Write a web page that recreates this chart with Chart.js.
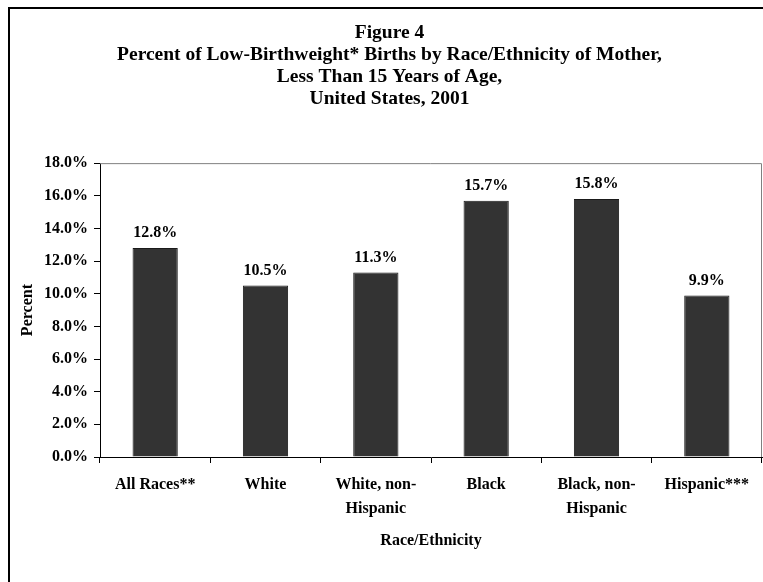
<!DOCTYPE html>
<html>
<head>
<meta charset="utf-8">
<script src="https://cdn.jsdelivr.net/npm/chart.js@4"></script>
<style>
  html, body { margin:0; padding:0; background:#fff; }
  #wrap { position:relative; width:763px; height:582px; overflow:hidden; }
  #frame { position:absolute; left:8px; top:7px; width:800px; height:600px; border-left:2px solid #000; border-top:2px solid #000; }
  #chart { position:absolute; left:0; top:0; }
</style>
</head>
<body>
<div id="wrap">
  <div id="frame"></div>
  <canvas id="chart" width="763" height="582"></canvas>
</div>
<script>
const categories = [['All Races**'], ['White'], ['White, non-', 'Hispanic'], ['Black'], ['Black, non-', 'Hispanic'], ['Hispanic***']];
const percents = [12.8, 10.5, 11.3, 15.7, 15.8, 9.9];
const titleLines = [
  'Figure 4',
  'Percent of Low-Birthweight* Births by Race/Ethnicity of Mother,',
  'Less Than 15 Years of Age,',
  'United States, 2001'
];
const yTicks = [0, 2, 4, 6, 8, 10, 12, 14, 16, 18];

const serif = "'Liberation Serif', 'Times New Roman', serif";

// values over the bars + grey frame on top/right of the plot
const barLabels = {
  id: 'barLabels',
  afterDatasetsDraw(chart) {
    const ctx = chart.ctx;
    const meta = chart.getDatasetMeta(0);
    ctx.save();
    ctx.font = 'bold 16px ' + serif;
    ctx.fillStyle = '#000';
    ctx.textAlign = 'center';
    ctx.textBaseline = 'middle';
    meta.data.forEach((bar, i) => {
      ctx.fillText(percents[i].toFixed(1) + '%', bar.x, bar.y - 15);
    });
    const a = chart.chartArea;
    ctx.strokeStyle = '#808080';
    ctx.lineWidth = 1;
    ctx.beginPath();
    ctx.moveTo(a.left, a.top + 0.5);
    ctx.lineTo(a.right - 0.5, a.top + 0.5);
    ctx.lineTo(a.right - 0.5, a.bottom);
    ctx.stroke();
    ctx.restore();
  }
};

new Chart(document.getElementById('chart').getContext('2d'), {
  type: 'bar',
  data: {
    labels: categories,
    datasets: [{
      data: percents,
      backgroundColor: '#333333',
      borderColor: '#1a1a1a',
      borderWidth: 1,
      categoryPercentage: 1,
      barPercentage: 0.41
    }]
  },
  options: {
    responsive: false,
    animation: false,
    layout: { padding: { left: 17, right: 1, top: 0, bottom: 0 } },
    plugins: {
      legend: { display: false },
      tooltip: { enabled: false },
      title: {
        display: true,
        text: titleLines,
        color: '#000',
        font: { family: serif, size: 19.5, weight: 'bold', lineHeight: 1.13 },
        padding: { top: 22, bottom: 53 }
      }
    },
    scales: {
      x: {
        afterFit: s => { s.height = 125; },
        grid: { drawOnChartArea: false, drawTicks: true, tickLength: 6, color: '#000' },
        border: { color: '#000', width: 1 },
        ticks: { color: '#000', padding: 10, maxRotation: 0, autoSkip: false, font: { family: serif, size: 16, weight: 'bold', lineHeight: 1.5 } },
        title: { display: true, text: 'Race/Ethnicity', color: '#000', font: { family: serif, size: 16, weight: 'bold' }, padding: { top: 0, bottom: 32 } }
      },
      y: {
        min: 0,
        max: 18,
        afterFit: s => { s.width = 83; },
        afterBuildTicks: s => { s.ticks = yTicks.map(v => ({ value: v })); },
        grid: { drawOnChartArea: false, drawTicks: true, tickLength: 6, color: '#000' },
        border: { color: '#000', width: 1 },
        ticks: { color: '#000', padding: 6, callback: v => v.toFixed(1) + '%', font: { family: serif, size: 16, weight: 'bold' } },
        title: { display: true, text: 'Percent', color: '#000', font: { family: serif, size: 16, weight: 'bold' }, padding: { top: 1, bottom: 0 } }
      }
    }
  },
  plugins: [barLabels]
});
</script>
</body>
</html>
